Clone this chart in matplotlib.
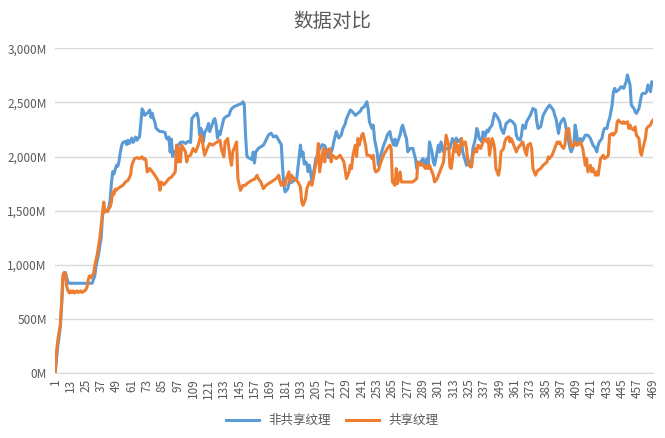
import matplotlib
matplotlib.use("Agg")
import matplotlib.pyplot as plt
from matplotlib.ticker import FuncFormatter

plt.rcParams['font.family'] = ['Noto Sans CJK SC', 'DejaVu Sans']

title = "数据对比"
series_names = ["非共享纹理", "共享纹理"]
x_ticks = list(range(1, 470, 12))
y_ticks = [0, 500, 1000, 1500, 2000, 2500, 3000]

# 非共享纹理: (category, value in M)
blue_pts = [
    (1, 0), (3, 250), (4, 330), (5, 430), (6, 620), (7, 850), (8, 920), (9, 930), (10, 880),
    (11, 840), (12, 830), (30, 830), (32, 900), (33, 990), (35, 1100), (36, 1180), (37, 1250),
    (38, 1450), (39, 1500), (40, 1490), (42, 1500), (43, 1530), (44, 1600), (45, 1750),
    (46, 1860), (47, 1840), (48, 1880), (49, 1920), (50, 1910), (51, 1960), (52, 2040),
    (53, 2100), (54, 2130), (56, 2140), (57, 2110), (58, 2150), (59, 2120), (60, 2140),
    (61, 2170), (62, 2130), (63, 2150), (64, 2180), (65, 2150), (66, 2170), (67, 2180),
    (68, 2300), (69, 2440), (70, 2420), (71, 2380), (72, 2390), (73, 2400), (74, 2410),
    (75, 2430), (76, 2360), (77, 2400), (78, 2350), (79, 2320), (80, 2260), (81, 2250),
    (83, 2230), (85, 2230), (87, 2220), (88, 2170), (89, 2160), (90, 2180), (91, 2040),
    (92, 2160), (93, 2000), (94, 2040), (96, 2060), (97, 2100), (99, 2130), (101, 2135),
    (103, 2120), (105, 2140), (107, 2130), (108, 2350), (110, 2380), (112, 2400), (113, 2350),
    (114, 2200), (115, 2260), (116, 2230), (117, 2135), (118, 2220), (120, 2260), (121, 2305),
    (122, 2230), (124, 2300), (125, 2335), (126, 2350), (127, 2290), (128, 2170), (129, 2230),
    (130, 2200), (132, 2300), (133, 2350), (135, 2370), (137, 2380), (138, 2415), (139, 2440),
    (141, 2460), (143, 2470), (145, 2480), (147, 2490), (148, 2505), (149, 2480), (150, 2200),
    (151, 2010), (152, 1990), (154, 1980), (155, 1970), (156, 2040), (157, 1940), (158, 2040),
    (160, 2075), (162, 2090), (164, 2105), (166, 2150), (168, 2200), (170, 2215), (172, 2180),
    (174, 2190), (176, 2150), (178, 2110), (179, 1900), (180, 1735), (181, 1673), (183, 1700),
    (184, 1750), (185, 1800), (186, 1760), (188, 1780), (190, 1790), (192, 2000), (193, 2105),
    (194, 2000), (195, 2040), (196, 1930), (197, 1950), (198, 1935), (199, 1860), (200, 1920),
    (201, 1850), (202, 1765), (203, 1830), (205, 1980), (206, 2000), (208, 2070), (210, 2110),
    (212, 2100), (214, 2040), (215, 1990), (216, 2010), (218, 2070), (219, 2130), (221, 2230),
    (223, 2170), (225, 2200), (226, 2250), (228, 2300), (229, 2350), (231, 2400), (232, 2430),
    (234, 2410), (236, 2380), (238, 2400), (240, 2420), (241, 2445), (243, 2460), (245, 2505),
    (246, 2440), (247, 2320), (249, 2260), (250, 2290), (251, 2160), (253, 2040), (254, 1920),
    (255, 1980), (258, 2100), (260, 2160), (261, 2200), (263, 2230), (264, 2170), (266, 2105),
    (267, 2160), (268, 2100), (271, 2200), (272, 2260), (273, 2290), (275, 2200), (276, 2166),
    (277, 2043), (279, 2075), (281, 2075), (283, 1980), (284, 1890), (285, 1920), (287, 1950),
    (289, 1980), (290, 1920), (292, 1980), (293, 1920), (294, 2135), (296, 2043), (297, 1950),
    (298, 1920), (300, 2043), (301, 2105), (302, 2043), (303, 2135), (305, 2043), (307, 2074),
    (310, 2074), (312, 2166), (314, 2105), (315, 2170), (316, 2135), (319, 2166), (320, 2043),
    (322, 1960), (323, 1919), (324, 1980), (326, 1904), (327, 1950), (328, 2074), (330, 2166),
    (331, 2259), (332, 2228), (333, 2166), (335, 2135), (336, 2228), (337, 2166), (339, 2244),
    (340, 2228), (341, 2259), (343, 2290), (344, 2352), (345, 2398), (347, 2367), (349, 2321),
    (350, 2259), (352, 2213), (353, 2259), (354, 2305), (357, 2336), (359, 2321), (361, 2290),
    (362, 2197), (363, 2166), (365, 2151), (366, 2197), (367, 2290), (369, 2259), (370, 2321),
    (373, 2382), (375, 2444), (377, 2429), (378, 2321), (379, 2259), (381, 2274), (383, 2382),
    (386, 2444), (388, 2475), (390, 2444), (391, 2429), (392, 2382), (393, 2352), (395, 2213),
    (396, 2290), (397, 2321), (399, 2352), (400, 2321), (401, 2259), (403, 2135), (404, 2074),
    (405, 2043), (407, 2105), (408, 2290), (409, 2228), (410, 2135), (412, 2166), (413, 2135),
    (414, 2151), (416, 2197), (418, 2197), (420, 2166), (421, 2135), (422, 2105), (424, 2074),
    (425, 2043), (426, 2105), (427, 2135), (429, 2166), (430, 2228), (431, 2259), (433, 2259),
    (434, 2321), (435, 2352), (437, 2475), (438, 2598), (439, 2629), (440, 2598), (442, 2614),
    (443, 2629), (444, 2645), (446, 2629), (447, 2660), (448, 2691), (449, 2753), (451, 2660),
    (452, 2475), (454, 2444), (455, 2413), (456, 2398), (458, 2444), (459, 2506), (460, 2568),
    (461, 2583), (463, 2583), (464, 2598), (465, 2660), (466, 2629), (467, 2598), (468, 2691),
    (469, 2660),
]

# 共享纹理
orange_pts = [
    (1, 0), (2, 200), (3, 300), (4, 380), (5, 440), (6, 650), (7, 900), (8, 930), (9, 920),
    (10, 800), (11, 760), (12, 740), (13, 760), (14, 745), (15, 760), (16, 740), (18, 760),
    (19, 745), (20, 750), (21, 760), (22, 745), (24, 760), (25, 770), (26, 800), (27, 870),
    (28, 900), (29, 880), (30, 900), (31, 920), (32, 990), (33, 1050), (34, 1100), (35, 1180),
    (36, 1250), (37, 1364), (38, 1480), (39, 1580), (40, 1490), (41, 1500), (42, 1490),
    (43, 1520), (44, 1534), (45, 1580), (46, 1673), (47, 1650), (48, 1700), (49, 1690),
    (50, 1703), (52, 1720), (54, 1734), (56, 1765), (58, 1780), (60, 1830), (61, 1919),
    (62, 1950), (63, 1980), (65, 1990), (67, 1981), (69, 1997), (70, 1975), (71, 1981),
    (72, 1970), (73, 1858), (74, 1870), (75, 1889), (77, 1860), (79, 1827), (81, 1790),
    (82, 1765), (83, 1688), (84, 1765), (86, 1740), (88, 1765), (90, 1796), (92, 1810),
    (94, 1840), (95, 1858), (96, 2105), (97, 1950), (98, 2074), (99, 1950), (100, 2105),
    (103, 2043), (104, 1950), (105, 2000), (107, 2012), (109, 2074), (111, 2043), (113, 2105),
    (115, 2197), (116, 2160), (117, 2074), (118, 2012), (120, 2074), (122, 2120), (124, 2105),
    (126, 2120), (128, 2135), (130, 2151), (131, 2074), (133, 1997), (134, 2135), (136, 2166),
    (138, 1981), (139, 1919), (140, 2043), (142, 2105), (143, 2135), (144, 1796), (146, 1688),
    (148, 1734), (150, 1734), (151, 1750), (153, 1765), (155, 1781), (157, 1790), (159, 1827),
    (160, 1796), (162, 1765), (164, 1703), (166, 1734), (168, 1750), (170, 1765), (172, 1780),
    (174, 1796), (176, 1827), (177, 1765), (178, 1734), (179, 1765), (181, 1734), (182, 1796),
    (184, 1858), (185, 1765), (186, 1827), (188, 1796), (190, 1780), (191, 1765), (193, 1719),
    (194, 1580), (195, 1549), (197, 1611), (198, 1703), (199, 1734), (200, 1765), (202, 1734),
    (203, 1796), (204, 1873), (206, 1981), (207, 2120), (208, 1858), (210, 2012), (211, 2074),
    (212, 1950), (213, 2043), (216, 2074), (217, 1950), (218, 2012), (221, 1981), (224, 2012),
    (227, 1950), (229, 1796), (231, 1858), (232, 1919), (233, 1889), (234, 2000), (235, 2060),
    (236, 2105), (237, 2000), (238, 2166), (239, 2105), (241, 2197), (242, 2213), (244, 2105),
    (245, 2012), (247, 2012), (249, 1981), (250, 2012), (251, 1889), (252, 1858), (254, 1873),
    (256, 1950), (258, 2012), (261, 2074), (263, 2105), (264, 2074), (265, 1765), (267, 1734),
    (268, 1889), (269, 1750), (271, 1858), (272, 1765), (274, 1765), (276, 1765), (279, 1765),
    (281, 1765), (284, 1796), (285, 1950), (287, 1919), (288, 1935), (289, 1919), (291, 1889),
    (292, 1919), (293, 1889), (294, 1919), (297, 1827), (298, 1765), (300, 1796), (302, 1858),
    (304, 1919), (305, 1950), (307, 2197), (309, 2105), (310, 1904), (311, 1889), (313, 2074),
    (314, 2135), (315, 2043), (316, 2105), (317, 2012), (318, 2074), (319, 2166), (320, 2105),
    (322, 2135), (323, 2074), (324, 1950), (325, 1919), (327, 1904), (328, 2012), (330, 2074),
    (331, 2043), (332, 2105), (334, 2074), (335, 2105), (336, 2135), (337, 2166), (339, 2135),
    (340, 2166), (341, 2012), (343, 2166), (344, 2135), (345, 2074), (346, 1889), (348, 1827),
    (349, 1889), (350, 2043), (352, 2074), (353, 2135), (354, 2166), (356, 2182), (357, 2135),
    (358, 2166), (360, 2105), (361, 2074), (362, 2043), (363, 2074), (365, 2105), (367, 2135),
    (369, 2043), (370, 2012), (371, 2105), (373, 2120), (374, 2074), (375, 1889), (377, 1827),
    (378, 1858), (379, 1873), (381, 1889), (383, 1919), (386, 1950), (387, 1997), (388, 1981),
    (390, 2012), (391, 2043), (392, 2074), (393, 2105), (394, 2135), (395, 2120), (396, 2135),
    (397, 2105), (399, 2074), (400, 2105), (401, 2228), (403, 2259), (404, 2166), (405, 2089),
    (407, 2105), (408, 2135), (409, 2105), (410, 2105), (412, 2135), (413, 2105), (414, 2074),
    (416, 1919), (417, 1981), (418, 1858), (420, 1919), (421, 1858), (422, 1889), (424, 1827),
    (425, 1858), (426, 1827), (428, 1981), (429, 1997), (430, 2012), (431, 1981), (433, 1997),
    (434, 2012), (435, 2197), (437, 2213), (438, 2197), (440, 2228), (441, 2321), (442, 2336),
    (443, 2321), (445, 2305), (446, 2321), (447, 2305), (449, 2321), (450, 2259), (451, 2290),
    (452, 2259), (454, 2244), (455, 2274), (456, 2197), (458, 2166), (459, 2043), (460, 2012),
    (461, 2074), (463, 2166), (464, 2259), (465, 2274), (467, 2290), (468, 2321), (469, 2336),
]

blue_x = [p[0] for p in blue_pts]
blue_y = [p[1] for p in blue_pts]
orange_x = [p[0] for p in orange_pts]
orange_y = [p[1] for p in orange_pts]

text_color = '#595959'
grid_color = '#D9D9D9'

fig = plt.figure(figsize=(6.65, 4.38), dpi=100)
ax = fig.add_axes([0.083, 0.148, 0.899, 0.742])

ax.plot(blue_x, blue_y, color='#5B9BD5', lw=2.2, label=series_names[0], solid_joinstyle='round')
ax.plot(orange_x, orange_y, color='#ED7D31', lw=2.2, label=series_names[1], solid_joinstyle='round')

ax.set_xlim(1, 469)
ax.set_ylim(0, 3000)
ax.set_yticks(y_ticks)
ax.yaxis.set_major_formatter(FuncFormatter(lambda v, p: '{:,}M'.format(int(v))))
ax.set_xticks(x_ticks)
ax.set_xticklabels([str(t) for t in x_ticks], rotation=90)
ax.tick_params(axis='both', length=0, colors=text_color, labelsize=8.5)
ax.tick_params(axis='y', pad=6)
ax.tick_params(axis='x', pad=4)

ax.grid(axis='y', color=grid_color, lw=1)
ax.set_axisbelow(True)
for s in ['top', 'right', 'left']:
    ax.spines[s].set_visible(False)
ax.spines['bottom'].set_color(grid_color)

fig.suptitle(title, x=0.5, y=0.975, fontsize=14, color=text_color)
fig.legend(loc='center', bbox_to_anchor=(0.5, 0.04), ncol=2, frameon=False,
           fontsize=9, labelcolor=text_color, handlelength=2.6, columnspacing=1.2)

fig.savefig('out.png', dpi=100)
